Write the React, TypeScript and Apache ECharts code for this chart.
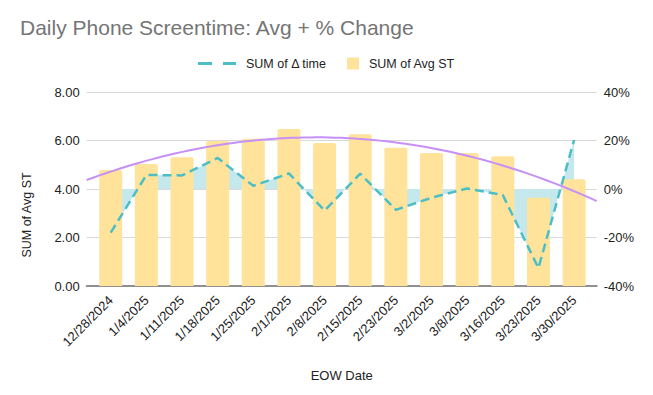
import React, { useEffect, useRef } from "react";
import * as echarts from "echarts";

const titleText = "Daily Phone Screentime: Avg + % Change";
const categories = [
  "12/28/2024", "1/4/2025", "1/11/2025", "1/18/2025", "1/25/2025", "2/1/2025", "2/8/2025",
  "2/15/2025", "2/23/2025", "3/2/2025", "3/8/2025", "3/16/2025", "3/23/2025", "3/30/2025",
];
const avgST = [4.78, 5.03, 5.31, 5.98, 6.07, 6.47, 5.9, 6.26, 5.7, 5.48, 5.48, 5.35, 3.64, 4.4];
const deltaTime = [-18.0, 5.8, 5.6, 12.8, 1.3, 6.4, -8.9, 6.3, -8.6, -3.6, 0.2, -2.5, -32.6, 20.2];
const leftTicks = { min: 0, max: 8, interval: 2 };
const rightTicks = { min: -40, max: 40, interval: 20 };
const lineName = "SUM of \u0394 time";
const barName = "SUM of Avg ST";

// quadratic least-squares trendline of the bar values (as the source chart draws it)
function quadFit(ys: number[]) {
  const s = [0, 0, 0, 0, 0];
  const t = [0, 0, 0];
  ys.forEach((y, x) => {
    for (let k = 0; k < 5; k++) s[k] += Math.pow(x, k);
    for (let k = 0; k < 3; k++) t[k] += y * Math.pow(x, k);
  });
  const A = [
    [s[0], s[1], s[2], t[0]],
    [s[1], s[2], s[3], t[1]],
    [s[2], s[3], s[4], t[2]],
  ];
  for (let i = 0; i < 3; i++) {
    for (let j = i + 1; j < 3; j++) {
      const f = A[j][i] / A[i][i];
      for (let k = i; k < 4; k++) A[j][k] -= f * A[i][k];
    }
  }
  const c = [0, 0, 0];
  for (let i = 2; i >= 0; i--) {
    let v = A[i][3];
    for (let k = i + 1; k < 3; k++) v -= A[i][k] * c[k];
    c[i] = v / A[i][i];
  }
  return (x: number) => c[0] + c[1] * x + c[2] * x * x;
}

export default function App() {
  const ref = useRef<HTMLDivElement>(null);
  useEffect(() => {
    if (!ref.current) return;
    const chart = echarts.init(ref.current, null, { renderer: "svg" });
    const fit = quadFit(avgST);
    const xMin = -0.673;
    const xMax = 13.636;
    const trend: number[][] = [];
    const steps = 80;
    for (let i = 0; i <= steps; i++) {
      const x = xMin + ((xMax - xMin) * i) / steps;
      trend.push([x, fit(x)]);
    }
    const font = "Liberation Sans, Arial, sans-serif";
    chart.setOption({
      animation: false,
      backgroundColor: "#ffffff",
      title: {
        text: titleText,
        left: 20,
        top: 17,
        padding: 0,
        textStyle: { fontFamily: font, fontSize: 21, fontWeight: "normal", color: "#757575" },
      },
      legend: [
        {
          data: [{ name: lineName, icon: "path://M0,0H14V3H0Z M25,0H38V3H25Z" }],
          left: 198,
          top: 57,
          padding: 0,
          itemWidth: 38,
          itemHeight: 3,
          textStyle: { fontFamily: font, fontSize: 12.5, color: "#222", padding: [0, 0, 0, 5] },
        },
        {
          data: [{ name: barName, icon: "rect" }],
          left: 347,
          top: 57,
          padding: 0,
          itemWidth: 12,
          itemHeight: 12,
          textStyle: { fontFamily: font, fontSize: 12.5, color: "#222", padding: [0, 0, 0, 5] },
        },
      ],
      grid: [
        { left: 86.7, right: 56.3, top: 92, bottom: 109 },
        { left: 92.9, right: 61.1, top: 92, bottom: 109 },
      ],
      xAxis: [
        {
          type: "value",
          gridIndex: 0,
          min: xMin,
          max: xMax,
          axisLabel: { show: false },
          axisTick: { show: false },
          splitLine: { show: false },
          axisLine: { show: true, onZero: false, lineStyle: { color: "#909090", width: 2 } },
          name: "EOW Date",
          nameLocation: "middle",
          nameGap: 83,
          nameTextStyle: { fontFamily: font, fontSize: 13, color: "#222" },
        },
        {
          type: "category",
          gridIndex: 1,
          data: categories,
          boundaryGap: true,
          axisLine: { show: false },
          axisTick: { show: false },
          axisLabel: {
            rotate: 45,
            interval: 0,
            margin: 12,
            fontFamily: font,
            fontSize: 13,
            color: "#222",
          },
        },
      ],
      yAxis: [
        {
          type: "value",
          gridIndex: 0,
          ...leftTicks,
          position: "left",
          axisLine: { show: false },
          axisTick: { show: false },
          axisLabel: {
            margin: 7,
            fontFamily: font,
            fontSize: 13,
            color: "#222",
            formatter: (v: number) => v.toFixed(2),
          },
          splitLine: { lineStyle: { color: "#d9d9d9", width: 1 } },
        },
        {
          type: "value",
          gridIndex: 0,
          ...rightTicks,
          position: "right",
          axisLine: { show: false },
          axisTick: { show: false },
          axisLabel: {
            margin: 7,
            fontFamily: font,
            fontSize: 13,
            color: "#222",
            formatter: (v: number) => `${v}%`,
          },
          splitLine: { show: false },
        },
        { type: "value", gridIndex: 1, ...leftTicks, show: false },
        { type: "value", gridIndex: 1, ...rightTicks, show: false },
      ],
      graphic: [
        {
          type: "text",
          x: 27,
          y: 215,
          rotation: Math.PI / 2,
          style: {
            text: "SUM of Avg ST",
            fontFamily: font,
            fontSize: 12.5,
            fill: "#222",
            align: "center",
            verticalAlign: "middle",
          },
        },
      ],
      series: [
        {
          name: "deltaArea",
          type: "line",
          xAxisIndex: 1,
          yAxisIndex: 3,
          data: deltaTime,
          showSymbol: false,
          symbol: "none",
          lineStyle: { width: 0, opacity: 0 },
          areaStyle: { color: "#c4e8ec", opacity: 1, origin: "auto" },
          z: 1,
          silent: true,
        },
        {
          name: barName,
          type: "bar",
          xAxisIndex: 1,
          yAxisIndex: 2,
          data: avgST,
          barWidth: 23,
          itemStyle: { color: "#ffe39b", borderRadius: [2, 2, 0, 0] },
          z: 2,
        },
        {
          name: lineName,
          type: "line",
          xAxisIndex: 1,
          yAxisIndex: 3,
          data: deltaTime,
          symbol: "none",
          itemStyle: { color: "#4cbec6" },
          lineStyle: { color: "#4cbec6", width: 2.5, type: [9, 5] },
          z: 3,
        },
        {
          name: "trend",
          type: "line",
          xAxisIndex: 0,
          yAxisIndex: 0,
          data: trend,
          symbol: "none",
          lineStyle: { color: "#c690f6", width: 2 },
          z: 4,
          silent: true,
        },
      ],
    });
    return () => chart.dispose();
  }, []);
  return (
    <div
      ref={ref}
      style={{ position: "fixed", left: 0, top: 0, width: 653, height: 395, background: "#fff" }}
    />
  );
}
